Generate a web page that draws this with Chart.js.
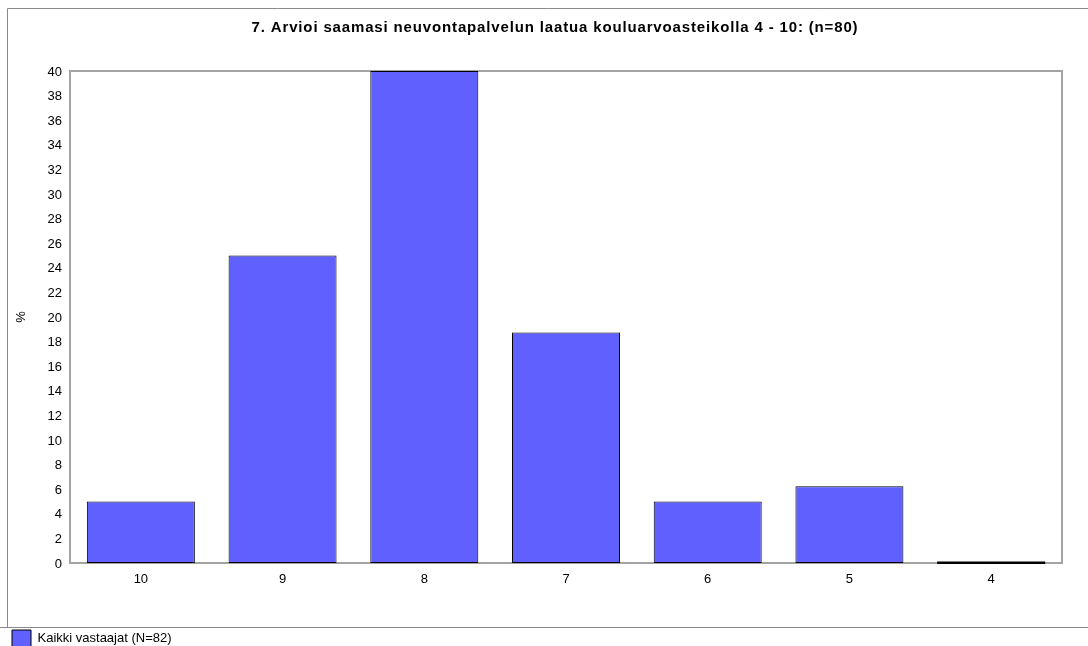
<!DOCTYPE html>
<html>
<head>
<meta charset="utf-8">
<style>
  html, body { margin: 0; padding: 0; background: #fff; overflow: hidden; }
  #wrap { position: relative; width: 1088px; height: 657px; }
</style>
<script src="https://cdn.jsdelivr.net/npm/chart.js@4/dist/chart.umd.min.js"></script>
</head>
<body>
<div id="wrap"><canvas id="c" width="1088" height="657"></canvas></div>
<script>
// Arvosanat (kouluarvosana 4–10) ja vastausten osuudet prosentteina
const grades = ['10', '9', '8', '7', '6', '5', '4'];
const percentAll = [5, 25, 40, 18.75, 5, 6.25, 0];
const yTicks = [0, 2, 4, 6, 8, 10, 12, 14, 16, 18, 20, 22, 24, 26, 28, 30, 32, 34, 36, 38, 40];

const titleText = '7. Arvioi saamasi neuvontapalvelun laatua kouluarvoasteikolla 4 - 10: (n=80)';
const seriesName = 'Kaikki vastaajat (N=82)';

const FONT = 'Liberation Sans, Arial, Helvetica, sans-serif';
Chart.defaults.font.family = FONT;
Chart.defaults.color = '#000';

// Frame around the chart and border of the plot area
const framePlugin = {
  id: 'frame',
  beforeDraw(chart) {
    const ctx = chart.ctx;
    const a = chart.chartArea;
    ctx.save();
    ctx.fillStyle = '#fff';
    ctx.fillRect(0, 0, chart.width, chart.height);
    ctx.strokeStyle = '#8a8a8a';
    ctx.lineWidth = 1;
    ctx.beginPath();
    ctx.moveTo(7.5, 627.5); ctx.lineTo(7.5, 8.5); ctx.lineTo(chart.width, 8.5);
    ctx.moveTo(0, 627.5); ctx.lineTo(chart.width, 627.5);
    ctx.stroke();
    ctx.strokeStyle = '#a3a3a3';
    ctx.lineWidth = 2;
    ctx.strokeRect(a.left, a.top, a.right - a.left, a.bottom - a.top);
    ctx.restore();

    // slightly wider letter spacing for the bold heading
    const tb = chart.titleBlock;
    if (tb && !tb._spaced) {
      const orig = tb.draw.bind(tb);
      tb.draw = function () {
        const c = chart.ctx;
        c.save();
        c.letterSpacing = '0.85px';
        orig();
        c.restore();
      };
      tb._spaced = true;
    }
  },
  // zero-valued bars are shown as a black line on the base
  afterDatasetsDraw(chart) {
    const ctx = chart.ctx;
    const meta = chart.getDatasetMeta(0);
    const data = chart.data.datasets[0].data;
    ctx.save();
    ctx.fillStyle = '#000';
    meta.data.forEach((bar, i) => {
      if (data[i] === 0) {
        const p = bar.getProps(['x', 'width', 'base'], true);
        ctx.fillRect(p.x - p.width / 2, p.base - 1.5, p.width, 2.5);
      }
    });
    ctx.restore();
  }
};

new Chart(document.getElementById('c'), {
  type: 'bar',
  data: {
    labels: grades,
    datasets: [{
      label: seriesName,
      data: percentAll,
      backgroundColor: '#6060ff',
      borderColor: '#000',
      borderWidth: 1,
      borderSkipped: false,
      categoryPercentage: 1,
      barPercentage: 0.762,
      yAxisID: 'y'
    }]
  },
  options: {
    responsive: false,
    animation: false,
    events: [],
    layout: { padding: { left: 0, right: -22, top: 0, bottom: 0 } },
    plugins: {
      title: {
        display: true,
        text: titleText,
        font: { size: 15, weight: 'bold', family: FONT },
        color: '#000',
        padding: { top: 19, bottom: 34 }
      },
      legend: {
        display: true,
        position: 'bottom',
        align: 'start',
        labels: {
          boxWidth: 19,
          boxHeight: 17,
          padding: 12,
          font: { size: 13, family: FONT },
          color: '#000',
          generateLabels(chart) {
            const ds = chart.data.datasets[0];
            return [{
              text: ds.label,
              fillStyle: ds.backgroundColor,
              strokeStyle: '#000',
              lineWidth: 1,
              datasetIndex: 0
            }];
          }
        }
      },
      tooltip: { enabled: false }
    },
    scales: {
      x: {
        grid: { display: false, drawTicks: false },
        border: { display: false },
        ticks: { padding: 9, font: { size: 13 }, color: '#000', maxRotation: 0 },
        afterFit(scale) { scale.height = 55; }
      },
      y: {
        position: 'left',
        min: 0,
        max: 40,
        afterBuildTicks(scale) { scale.ticks = yTicks.map(v => ({ value: v })); },
        grid: { display: false, drawTicks: false },
        border: { display: false },
        ticks: { padding: 8, font: { size: 13 }, color: '#000', labelOffset: 1 },
        title: {
          display: true,
          text: '%',
          font: { size: 13 },
          color: '#000',
          padding: { top: 13.5, bottom: 0 }
        },
        afterFit(scale) { scale.width = 70; }
      },
      yRight: {
        position: 'right',
        display: true,
        grid: { display: false, drawTicks: false },
        border: { display: false },
        ticks: { display: false },
        afterFit(scale) { scale.width = 48; }
      }
    }
  },
  plugins: [framePlugin]
});
</script>
</body>
</html>
